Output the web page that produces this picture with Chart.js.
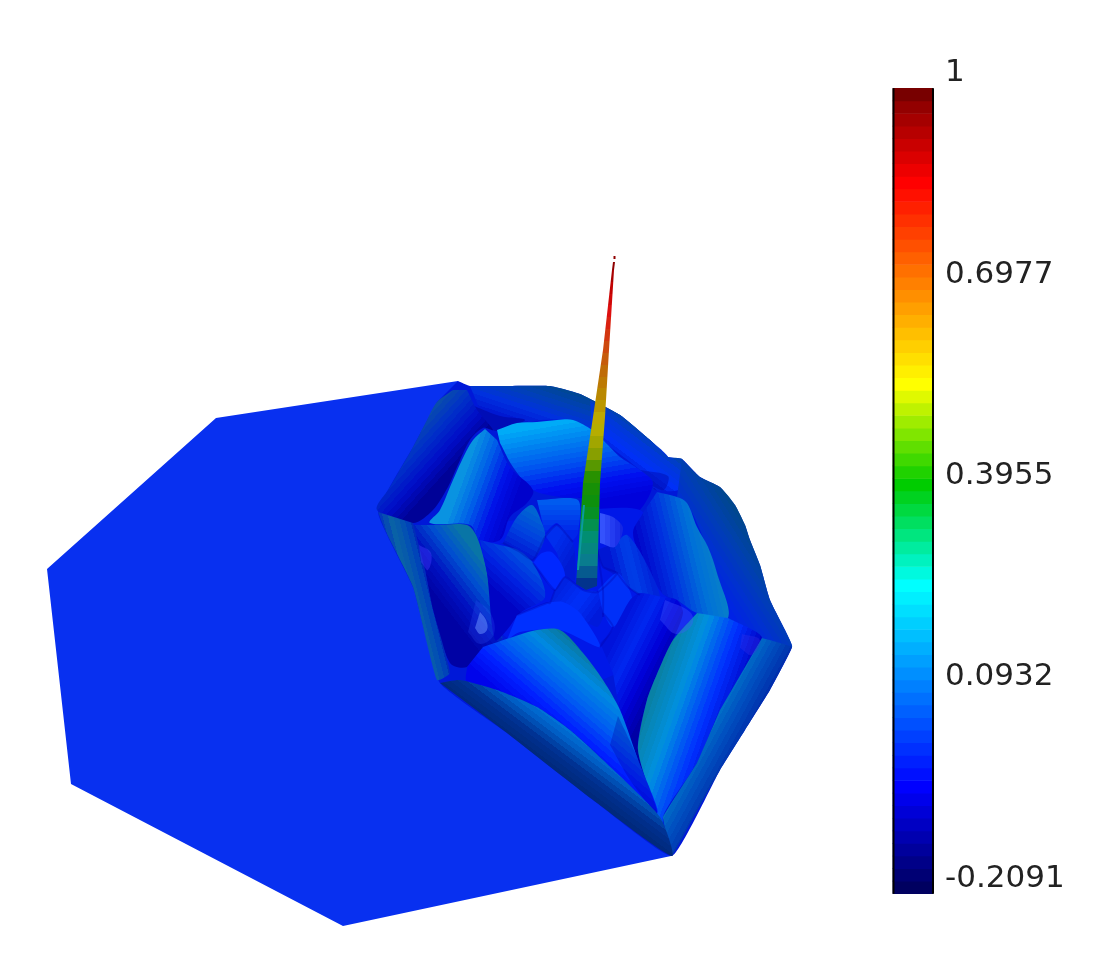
<!DOCTYPE html>
<html><head><meta charset="utf-8">
<style>html,body{margin:0;padding:0;background:#fff}canvas{display:block}</style>
<script src="https://cdn.jsdelivr.net/npm/chart.js@4"></script>
</head><body><canvas id="c" width="1102" height="970"></canvas>
<script>
// Colour bar
const colorbarTickValues = [1, 0.6977, 0.3955, 0.0932, -0.2091];
const colorbarEdges = [-0.2091,-0.1902,-0.1713,-0.1524,-0.1335,-0.1146,-0.0957,-0.0769,-0.0580,-0.0391,-0.0202,-0.0013,0.0176,0.0365,0.0554,0.0743,0.0932,0.1121,0.1310,0.1499,0.1688,0.1876,0.2065,0.2254,0.2443,0.2632,0.2821,0.3010,0.3199,0.3388,0.3577,0.3766,0.3955,0.4143,0.4332,0.4521,0.4710,0.4899,0.5088,0.5277,0.5466,0.5655,0.5844,0.6033,0.6222,0.6411,0.6600,0.6788,0.6977,0.7166,0.7355,0.7544,0.7733,0.7922,0.8111,0.8300,0.8489,0.8678,0.8867,0.9055,0.9244,0.9433,0.9622,0.9811,1];
const colorbarColours = ['#000060','#000074','#000088','#00009c','#0000b0','#0000c3','#0000d7','#0000eb','#0000ff','#0010ff','#0020ff','#0030ff','#0040ff','#0050ff','#0060ff','#0070ff','#0080ff','#008fff','#009fff','#00afff','#00bfff','#00cfff','#00dfff','#00efff','#00ffff','#00f9df','#00f2bf','#00ec9f','#00e67f','#00df60','#00d940','#00d220','#00cc00','#20d200','#40d900','#60df00','#80e600','#9fec00','#bff200','#dff900','#ffff00','#ffef00','#ffdf00','#ffcf00','#ffbf00','#ffaf00','#ff9f00','#ff8f00','#ff8000','#ff7000','#ff6000','#ff5000','#ff4000','#ff3000','#ff2000','#ff1000','#ff0000','#ed0000','#db0000','#c90000','#b70000','#a50000','#930000','#780000'];

// Surface outlines (screen-space projected mesh)
const plane = [[47,569],[216,418],[458,381],[520,600],[671,856],[343,926],[71,784]];
const surfaceOutline = [[458,381],[470,386],[497,386],[550,386],[580,394],[620,415],[650,440],[668,457],[682,459],[700,477],[720,487],[735,505],[745,525],[750,540],[760,565],[770,600],[785,630],[792,647],[770,690],[745,730],[720,770],[672,856],[597,803],[507,733],[440,683],[413,587],[378,512],[413,447],[437,402]];
const backWallTop = [[470,386],[497,386],[550,386],[580,394],[620,415],[650,440],[668,457],[660,480],[640,470],[608,445],[592,430],[573,420],[540,420],[497,430],[480,410]];
const backWallRight = [[590,400],[620,415],[650,440],[668,457],[682,459],[678,490],[655,490],[640,470],[608,445],[592,430]];
const backWallShadow = [[474,406],[500,416],[525,420],[497,431],[487,427]];
const backRightShadow = [[640,470],[668,476],[664,490],[652,486]];
const backLeftWall = [[453,390],[437,402],[427,420],[413,447],[390,487],[377,510],[413,523],[433,510],[448,487],[457,467],[470,440],[483,428],[493,430],[477,410],[467,390]];
const backLeftHump = [[485,429],[473,440],[462,460],[450,487],[440,510],[430,523],[470,525],[480,540],[500,540],[510,517],[527,503],[533,490],[510,467],[497,440]];
const backHump = [[497,430],[517,423],[537,422],[557,420],[573,420],[592,430],[608,445],[620,457],[640,470],[653,483],[640,510],[620,520],[600,513],[592,500],[560,497],[533,490],[513,467],[500,443]];
const rightWall = [[682,459],[700,477],[720,487],[735,505],[745,525],[750,540],[760,565],[770,600],[785,630],[792,647],[760,637],[728,617],[717,573],[700,530],[687,503],[677,497]];
const rightHump = [[657,492],[677,497],[687,503],[697,527],[708,547],[717,573],[728,618],[697,613],[677,600],[662,593],[643,560],[633,533],[643,513]];
const centerWeb = [[480,525],[640,510],[662,593],[697,613],[600,680],[510,640],[470,600]];
const leftWall = [[378,512],[385,530],[413,587],[437,680],[450,673],[433,610],[425,570],[413,523]];
const leftHump = [[413,525],[437,525],[467,525],[477,537],[487,573],[493,617],[502,640],[467,667],[450,663],[433,610],[425,570]];
const cellTopLeft = [[503,543],[517,517],[532,505],[542,523],[545,537],[533,560],[520,552],[500,543]];
const cellTopMid = [[537,500],[578,500],[578,533],[572,540],[557,523],[545,533]];
const cellMid = [[545,535],[557,525],[573,542],[575,580],[565,575],[557,553]];
const cellBright = [[533,563],[542,553],[553,553],[565,575],[555,590],[540,572]];
const cellLeft = [[500,545],[518,550],[533,563],[545,597],[520,613],[507,630],[495,640],[487,573],[480,540]];
const cellBelow = [[555,590],[565,577],[583,590],[598,592],[603,617],[597,627],[550,603]];
const cellFrontBack = [[517,615],[547,603],[563,602],[580,613],[600,647],[560,630],[520,632],[507,640]];
const cellRightLow = [[598,590],[617,573],[628,587],[632,603],[613,627],[603,613]];
const cellRightLight = [[600,513],[613,517],[623,528],[615,547],[600,543]];
const cellRightHump = [[615,543],[627,535],[643,557],[660,597],[640,595],[615,575],[603,567],[597,550]];
const frontHump = [[483,647],[513,637],[537,630],[560,630],[583,653],[603,680],[620,710],[637,757],[657,813],[603,760],[570,730],[537,707],[497,690],[467,682],[467,667]];
const frontHumpShade = [[618,716],[637,757],[657,813],[630,780],[610,745]];
const frontWall = [[440,683],[460,680],[497,690],[537,707],[570,730],[603,760],[660,817],[672,856],[597,803],[507,733]];
const frontMiddle = [[600,643],[613,630],[630,600],[640,593],[662,597],[677,600],[683,613],[673,640],[663,660],[647,700],[638,750],[657,813],[637,757],[620,710],[613,673]];
const rightFront = [[697,613],[673,640],[663,660],[647,700],[638,750],[657,813],[672,856],[663,817],[697,763],[720,710],[762,638],[728,618]];
const rightEdge = [[762,638],[792,647],[770,690],[745,730],[720,770],[692,820],[672,856],[663,817],[697,763],[720,710]];
const spotAOuter = [[476,600],[490,612],[494,634],[480,644],[468,632]];
const spotAInner = [[480,612],[486,620],[487,630],[480,634],[475,628]];
const spotB = [[419,545],[431,553],[428,570],[421,562]];
const spotC = [[665,600],[690,612],[692,625],[676,634],[660,620]];
const spotD = [[742,634],[760,640],[752,655],[740,648]];
const seamA = [[503,543],[520,552],[533,560],[545,537],[557,525],[573,542]];
const seamB = [[533,563],[540,572],[555,590],[565,577],[583,590],[598,592],[617,573],[603,567],[597,550]];
const seamC = [[555,590],[550,603],[547,603],[517,615]];
const seamD = [[603,613],[613,627],[600,647]];
const seamE = [[597,548],[603,590],[603,617]];
const seamF = [[640,595],[628,587],[617,573]];
const spike = [[576,584],[586,590],[597,586],[600,483],[605,417],[609,350],[614,270],[615,262],[613,262],[612,270],[603,350],[593,417],[583,483]];
const spikeTip = [[613.5,256],[615.5,256],[615.5,259],[613.5,259]];
const spikeHighlight = [[577,570],[579,570],[585,505],[583,505]];

// Fill styles per patch: gradient line [x0,y0,x1,y1] and colour stops; third entry is edge smoothing
const G = (line, ...stops) => ({line, stops});
const patches = [
  [plane, '#0830f0', 0],
  [surfaceOutline, '#0018d8', 0.12],
  [backWallTop, G([560,386,545,432],'#00488f','#0040b8','#0030e0','#0014d0'), 0.15],
  [backWallRight, G([645,425,615,465],'#004a95','#0038d8','#0030f8','#000cc0'), 0.15],
  [backWallShadow, 'rgba(0,8,170,0.7)', 0.3],
  [backRightShadow, 'rgba(0,8,170,0.45)', 0.3],
  [rightWall, G([755,535,700,570],'#004888','#0040b0','#0030d0','#0020e8'), 0.2],
  [backHump, G([560,420,575,508],'#00b0f8','#0080f0','#0050f0','#0010f0','#0000d8'), 0.3],
  [backLeftWall, G([408,432,452,472],'#0a50a8','#0030c8','#000cc8','#000090'), 0.3],
  [centerWeb, '#0018e8', 0.2],
  [cellTopMid, G([555,535,555,500],'#0020e8','#0060f0'), 0.25],
  [cellTopLeft, G([510,555,535,510],'#000cd0','#0040e0','#0068d0'), 0.3],
  [backLeftHump, G([462,470,522,492],'#0a9ae0','#0060e8','#0010e8','#0000c8'), 0.35],
  [rightHump, G([722,545,640,565],'#0a88c0','#0070d8','#0030e0','#0000c8'), 0.35],
  [cellMid, G([550,545,575,560],'#0030f0','#0018d0'), 0.25],
  [cellBright, '#0028ff', 0.35],
  [cellBelow, G([560,585,600,615],'#0020e0','#0030f8','#0018d8'), 0.2],
  [cellRightHump, G([610,570,650,560],'#0010d0','#0040e8','#0020d8'), 0.25],
  [cellRightLow, '#0030f8', 0.3],
  [cellRightLight, G([600,530,625,530],'#3858ff','#1020e0'), 0.3],
  [leftHump, G([482,555,430,595],'#0a7aa0','#0050d0','#0010c0','#0000a0'), 0.3],
  [leftWall, G([392,575,432,565],'#0030c0','#0a64a4','#0048b8','#000cb8'), 0.15],
  [cellLeft, G([500,600,532,565],'#0000c0','#0020e0','#0050e0'), 0.3],
  [cellFrontBack, '#0030ff', 0.25],
  [frontMiddle, G([610,640,670,670],'#0010d8','#0028f0','#0000d8','#0000a0'), 0.25],
  [rightFront, G([660,665,745,695],'#0a80a0','#0090e0','#0030ff','#0000c0'), 0.2],
  [rightEdge, G([690,730,745,760],'#0090d0','#0050c0','#001ca0'), 0.05],
  [frontHump, G([570,635,510,705],'#0a7898','#0088e0','#0060f0','#0020ff','#0000e8'), 0.3],
  [frontHumpShade, 'rgba(0,0,160,0.3)', 0.3],
  [frontWall, G([545,702,515,742],'#0080e0','#0060c8','#003090','#002878'), 0.2],
  [spotAOuter, 'rgba(50,90,255,0.22)', 0.4],
  [spotAInner, 'rgba(110,150,255,0.5)', 0.4],
  [spotB, 'rgba(70,60,255,0.4)', 0.4],
  [spotC, 'rgba(70,90,255,0.35)', 0.4],
  [spotD, 'rgba(60,50,230,0.3)', 0.4],
  [spike, {...G([0,258,0,590],'#800000','#c00000','#e01010','#d04010','#c06a08','#b88a00','#c0b000','#90a000','#209000','#089010','#009070','#0a7a90','#00208c'), band: 12}, 0],
  [spikeTip, '#900000', 0],
  [spikeHighlight, '#0a9aa0', 0]
];
const seams = [seamA, seamB, seamC, seamD, seamE, seamF];

const rgb = (h) => [1, 3, 5].map((i) => parseInt(h.substr(i, 2), 16));
const gradientFill = (style) => (ctx) => {
  if (typeof style === 'string') return style;
  const chart = ctx.chart;
  if (!chart.chartArea) return style.stops[0];
  const {x, y} = chart.scales;
  const [x0, y0, x1, y1] = style.line;
  const ax = x.getPixelForValue(x0), ay = y.getPixelForValue(y0), bx = x.getPixelForValue(x1), by = y.getPixelForValue(y1);
  const g = chart.ctx.createLinearGradient(ax, ay, bx, by);
  // The surface is coloured in flat bands, so the ramp is stepped rather than smooth
  const n = Math.max(2, Math.round(Math.hypot(bx - ax, by - ay) / (style.band || 5)));
  const last = style.stops.length - 1;
  for (let k = 0; k < n; k++) {
    const t = ((k + 0.5) / n) * last, i = Math.min(last - 1, Math.floor(t)), f = t - i;
    const a = rgb(style.stops[i]), b = rgb(style.stops[i + 1]);
    const c = `rgb(${a.map((v, j) => Math.round(v + (b[j] - v) * f)).join(',')})`;
    g.addColorStop(k / n, c);
    g.addColorStop((k + 1) / n, c);
  }
  return g;
};

const surfaceDatasets = patches.map(([pts, style, smooth]) => ({
  type: 'line',
  data: pts.map(([px, py]) => ({x: px, y: py})),
  fill: 'shape',
  backgroundColor: gradientFill(style),
  borderWidth: 0,
  pointRadius: 0,
  tension: smooth,
  clip: false,
  xAxisID: 'x', yAxisID: 'y'
}));
const seamDatasets = seams.map((pts) => ({
  type: 'line',
  data: pts.map(([px, py]) => ({x: px, y: py})),
  fill: false,
  borderColor: 'rgba(0,0,170,0.3)',
  borderWidth: 2,
  pointRadius: 0,
  tension: 0.2,
  xAxisID: 'x', yAxisID: 'y'
}));
// Chart.js paints the first dataset last; the spike stays above the seams
const spikeCount = 3;
const layered = [
  ...surfaceDatasets.slice(-spikeCount).reverse(),
  ...seamDatasets,
  ...surfaceDatasets.slice(0, -spikeCount).reverse()
];

const colorbarBars = {
  type: 'bar',
  data: colorbarColours.map((c, i) => ({x: 913, y: [colorbarEdges[i], colorbarEdges[i + 1]]})),
  backgroundColor: colorbarColours,
  borderWidth: 0,
  barThickness: 40,
  xAxisID: 'x', yAxisID: 'cb'
};
const barEdge = (at) => ({
  type: 'line',
  data: [{x: at, y: colorbarEdges[0]}, {x: at, y: 1}],
  borderColor: '#000',
  borderWidth: 2,
  pointRadius: 0,
  fill: false,
  xAxisID: 'x', yAxisID: 'cb'
});

new Chart(document.getElementById('c'), {
  data: {datasets: [barEdge(893.5), barEdge(933), colorbarBars, ...layered]},
  options: {
    responsive: false,
    devicePixelRatio: 1,
    animation: false,
    layout: {padding: 0},
    plugins: {legend: {display: false}, tooltip: {enabled: false}, title: {display: false}},
    events: [],
    scales: {
      x: {type: 'linear', min: 0, max: 934, display: false, offset: false},
      y: {type: 'linear', min: 0, max: 970, reverse: true, display: false},
      cb: {
        type: 'linear', position: 'right', min: -0.3235, max: 1.1325,
        grid: {display: false, drawTicks: false},
        border: {display: false},
        afterBuildTicks: (s) => { s.ticks = colorbarTickValues.map(v => ({value: v})); },
        afterFit: (s) => { s.width = 168; s.paddingTop = 0; s.paddingBottom = 0; },
        ticks: {
          autoSkip: false, padding: 11, labelOffset: -15, color: '#222',
          font: {family: '"DejaVu Sans"', size: 31},
          callback: (v) => String(v)
        }
      }
    }
  }
});
</script></body></html>
